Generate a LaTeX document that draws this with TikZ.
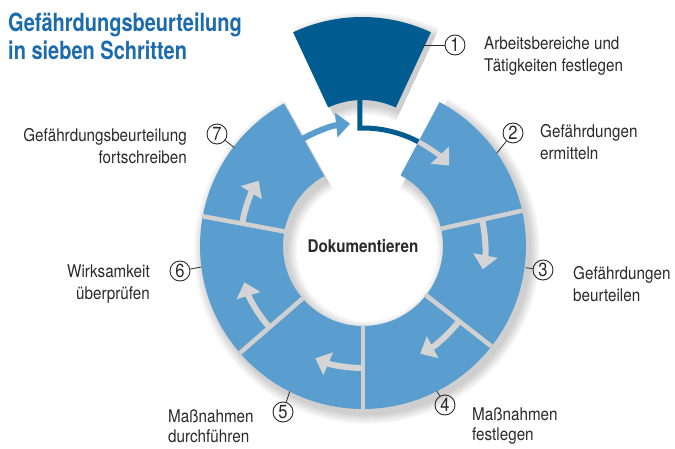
\documentclass[tikz,border=0pt]{standalone}
\usepackage{fontspec}
\setmainfont{TeX Gyre Heros}[FakeStretch=0.87]
\newfontfamily\titlefont{TeX Gyre Heros}[FakeStretch=0.8]
\usetikzlibrary{arrows.meta}
\definecolor{segblue}{HTML}{5A9ECF}
\definecolor{darkblue}{HTML}{005B91}
\definecolor{titleblue}{HTML}{1C6BAD}
\definecolor{gapgray}{HTML}{D0D0D0}
\definecolor{arrowgray}{HTML}{D4D4D4}
\definecolor{txt}{HTML}{2A2A2A}
% sector path: a1, a2, rin, rout (centre at origin of current shift)
\newcommand\sectorpath[4]{(#1:#4pt) arc[start angle=#1,end angle=#2,radius=#4pt] -- (#2:#3pt) arc[start angle=#2,end angle=#1,radius=#3pt] -- cycle}
\tikzset{
  seg/.style={fill=segblue},
  gapline/.style={draw=gapgray, line width=4.5pt},
  flow/.style={draw=arrowgray, line width=6pt, -{Triangle[width=24pt,length=14pt]}},
  numc/.style={circle, draw=txt, line width=0.9pt, inner sep=0pt, minimum size=20pt, text=txt, font=\fontsize{19}{19}\selectfont},
  leader/.style={draw=txt, line width=0.8pt},
  lbl/.style={text=txt, font=\fontsize{17.5}{22}\selectfont, inner sep=0pt},
}
\begin{document}
\begin{tikzpicture}[x=1pt,y=1pt]
\useasboundingbox (-363,-202) rectangle (312,246);
\fill[white] (-363,-202) rectangle (312,246);
% soft shadows
\foreach \d in {10,8.5,7,5.5,4,2.5,1}{
  \fill[black, opacity=0.028, shift={(4pt,-5pt)}] \sectorpath{119}{422}{80-\d}{163+\d};
  \fill[black, opacity=0.028, shift={(3pt,61pt)}] \sectorpath{65}{115}{80-\d}{163+\d};
}
% ring segments
\fill[seg] \sectorpath{12.5}{62}{80}{163};
\fill[seg] \sectorpath{-38}{12.5}{80}{163};
\fill[seg] \sectorpath{-90}{-38}{80}{163};
\fill[seg] \sectorpath{-139}{-90}{80}{163};
\fill[seg] \sectorpath{169.5}{221}{80}{163};
\fill[seg] \sectorpath{119}{169.5}{80}{163};
% gaps
\foreach \a in {12.5,-38,-90,-139,169.5}{
  \draw[gapline] (\a:79pt) -- (\a:163pt);
}
% segment 1 (lifted out)
\fill[darkblue, shift={(-1pt,66pt)}] \sectorpath{65}{115}{80}{163};
% flow arrows
\draw[flow] (12.5:122pt) arc[start angle=12.5,end angle=-11,radius=122pt];
\draw[flow] (-38:122pt) arc[start angle=-38,end angle=-62,radius=122pt];
\draw[flow] (-90:122pt) arc[start angle=-90,end angle=-113,radius=122pt];
\draw[flow] (-139:124pt) arc[start angle=-139,end angle=-163,radius=124pt];
\draw[flow] (169.5:123pt) arc[start angle=169.5,end angle=148,radius=123pt];
\draw[flow, draw=segblue] (121:123pt) arc[start angle=121,end angle=96,radius=123pt];
\draw[darkblue, line width=5pt, line join=miter] (-3,146) -- (91.5:118pt) arc[start angle=91.5,end angle=61.5,radius=118pt];
\draw[flow, line width=5pt] (62:118pt) arc[start angle=62,end angle=43,radius=118pt];
% centre text
\node[text=txt, font=\bfseries\fontsize{17.5}{20}\selectfont] (doc) at (0,0) {Dokumentieren};
% title
\node[anchor=west, align=left, inner sep=0pt, text=titleblue, font=\titlefont\bfseries\fontsize{25}{28}\selectfont] (title) at (-355,210) {Gefährdungsbeurteilung\\in sieben Schritten};
% numbered labels
\node[numc] (c1) at (92,201) {1};
\node[numc] (c2) at (150,113) {2};
\node[numc] (c3) at (180,-24) {3};
\node[numc] (c4) at (82,-159) {4};
\node[numc] (c5) at (-80,-166) {5};
\node[numc] (c6) at (-183,-25) {6};
\node[numc] (c7) at (-146,112) {7};
\coordinate (e1) at (60,201);
\coordinate (e2) at (34.8:163pt);
\coordinate (e3) at (-7.6:164pt);
\coordinate (e4) at (-63:163pt);
\coordinate (e5) at (-116.7:163pt);
\coordinate (e6) at (187.4:163pt);
\coordinate (e7) at (142.6:162pt);
\foreach \i in {1,...,7}{ \draw[leader] (e\i) -- (c\i); }
\node[lbl, anchor=west, align=left] (t1) at (121,190) {Arbeitsbereiche und\\Tätigkeiten festlegen};
\node[lbl, anchor=west, align=left] (t2) at (177,104) {Gefährdungen\\ermitteln};
\node[lbl, anchor=west, align=left] (t3) at (210,-38.5) {Gefährdungen\\beurteilen};
\node[lbl, anchor=west, align=left, font=\fontsize{17.5}{20}\selectfont] (t4) at (109,-180) {Maßnahmen\\festlegen};
\node[lbl, anchor=west, align=left, font=\fontsize{17.5}{20}\selectfont] (t5) at (-195,-180) {Maßnahmen\\durchführen};
\node[lbl, anchor=east, align=right] (t6) at (-213,-38.5) {Wirksamkeit\\überprüfen};
\node[lbl, anchor=east, align=right] (t7) at (-176,100) {Gefährdungsbeurteilung\\fortschreiben};
\end{tikzpicture}
\end{document}
